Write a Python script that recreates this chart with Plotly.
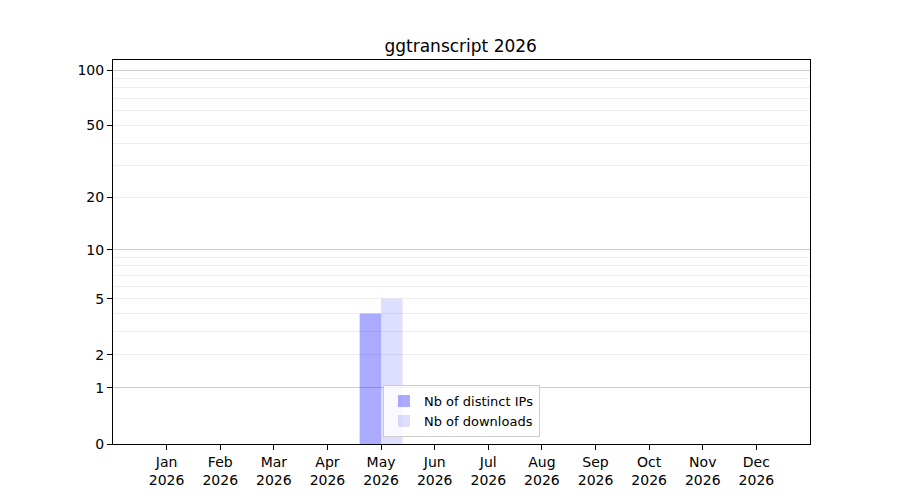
import numpy as np
import plotly.graph_objects as go

# monthly stats for the package, 2026
months = ['Jan', 'Feb', 'Mar', 'Apr', 'May', 'Jun',
          'Jul', 'Aug', 'Sep', 'Oct', 'Nov', 'Dec']
year = 2026
distinct_ips = [0, 0, 0, 0, 4, 0, 0, 0, 0, 0, 0, 0]
downloads = [0, 0, 0, 0, 5, 0, 0, 0, 0, 0, 0, 0]

# y axis is log10(1 + n)
y_labels = [0, 1, 2, 5, 10, 20, 50, 100]
y_major_grid = [1, 10, 100]
y_minor_grid = [2, 3, 4, 5, 6, 7, 8, 9, 20, 30, 40, 50, 60, 70, 80, 90]


def tr(v):
    return np.log10(1 + np.asarray(v, dtype=float))


x = list(range(len(months)))
tick_text = [f'{m}<br>{year}' for m in months]

fig = go.Figure()
fig.add_trace(go.Bar(x=x, y=tr(distinct_ips), name='Nb of distinct IPs',
                     marker=dict(color='rgba(0,0,255,0.33)', line_width=0)))
fig.add_trace(go.Bar(x=x, y=tr(downloads), name='Nb of downloads',
                     marker=dict(color='rgba(0,0,255,0.13)', line_width=0)))

y_range = [0, 2.058]

# page has an 8px body margin, so margins are shifted by that
fig.update_layout(
    width=900, height=500,
    margin=dict(l=105, r=98, t=52, b=64, autoexpand=False),
    paper_bgcolor='white', plot_bgcolor='rgba(0,0,0,0)',
    font=dict(family='DejaVu Sans', size=14, color='black'),
    title=dict(text=f'ggtranscript {year}', x=0.503, xanchor='center',
               y=0.924, yanchor='middle', font=dict(size=17)),
    barmode='group', bargap=0.2, bargroupgap=0,
    legend=dict(x=0.5, xanchor='center', y=0.018, yanchor='bottom',
                bgcolor='rgba(255,255,255,0.8)', bordercolor='#cccccc',
                borderwidth=1, font=dict(size=13), tracegroupgap=0,
                itemwidth=30),
    xaxis=dict(range=[-1, 12], tickmode='array', tickvals=x, ticktext=tick_text,
               showgrid=False, zeroline=False, showline=True, linecolor='black',
               mirror=True, ticks='outside', ticklen=5, tickcolor='black',
               automargin=False),
    yaxis=dict(range=y_range, tickmode='array', tickvals=tr(y_labels),
               ticktext=[str(v) for v in y_labels], showgrid=False,
               zeroline=False, showline=True, linecolor='black', mirror=True,
               ticks='outside', ticklen=5, tickcolor='black', automargin=False),
    yaxis2=dict(range=y_range, overlaying='y', side='left', showticklabels=False,
                tickmode='array', tickvals=tr(y_major_grid), ticks='',
                showgrid=True, gridcolor='#cccccc', gridwidth=1, zeroline=False,
                automargin=False,
                minor=dict(tickmode='array', tickvals=tr(y_minor_grid),
                           showgrid=True, gridcolor='#eeeeee', gridwidth=1,
                           ticks='')),
)
# invisible trace so the grid axis is drawn
fig.add_trace(go.Scatter(x=[None], y=[None], yaxis='y2', showlegend=False,
                         hoverinfo='skip'))

fig.write_html("out.html")
